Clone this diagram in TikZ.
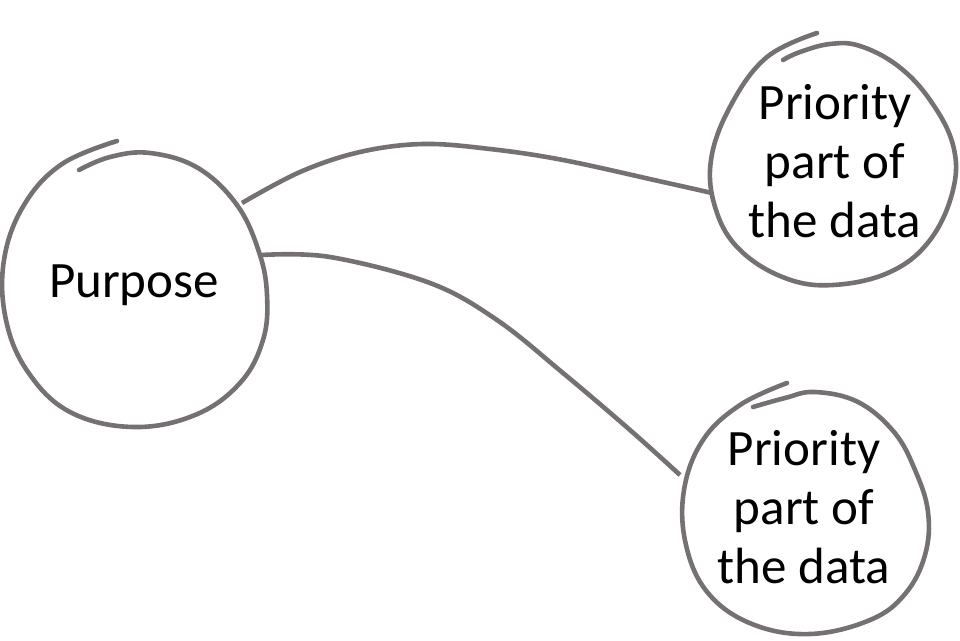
\documentclass[tikz,border=0pt]{standalone}
\usepackage{fontspec}
\setmainfont{Carlito}
\definecolor{inkgray}{RGB}{117,113,113}
\begin{document}
\begin{tikzpicture}[x=1pt,y=-1pt,
  ink/.style={draw=inkgray,line width=4.6pt,line cap=round,line join=round},
  lbl/.style={align=center,font=\fontsize{51}{59}\selectfont,text=black,inner sep=0pt}]
\useasboundingbox (0,0) rectangle (960,640);
% text nodes
\node[lbl] (purpose) at (134,285) {Purpose};
\node[lbl] (prioA) at (835,161) {Priority\\part of\\the data};
\node[lbl] (prioB) at (804,507) {Priority\\part of\\the data};
% hand-drawn circles
\draw[ink] plot[smooth,tension=0.65] coordinates {(117,141) (62,164) (24,205) (4,260) (6,320) (28,372) (70,412) (133,427) (195,415) (240,383) (263,340) (267,295) (259,252) (237,205) (198,168) (150,153) (110,157) (79,170)};
\draw[ink] plot[smooth,tension=0.65] coordinates {(817,33) (767,57) (731,105) (711,160) (716,210) (740,250) (785,278) (833,285) (890,272) (930,240) (953,190) (953,145) (930,100) (898,66) (860,46) (830,44) (800,52) (783,60)};
\draw[ink] plot[smooth,tension=0.65] coordinates {(787,383) (740,405) (703,440) (684,490) (686,545) (708,593) (752,624) (810,634) (870,620) (905,594) (925,555) (928,512) (915,470) (894,432) (858,402) (815,392) (785,398) (753,407)};
% connector end points on the circles
\coordinate (p1) at (242,203);
\coordinate (a1) at (712,193);
\coordinate (p2) at (262,255);
\coordinate (b1) at (680,475);
% connectors
\draw[ink,line cap=butt] plot[smooth,tension=0.6] coordinates {(p1) (300,172) (360,152) (423,144) (490,149) (563,160) (663,182) (a1)};
\draw[ink,line cap=butt] plot[smooth,tension=0.6] coordinates {(p2) (330,257) (430,283) (497,320) (563,373) (630,430) (b1)};
\end{tikzpicture}
\end{document}
